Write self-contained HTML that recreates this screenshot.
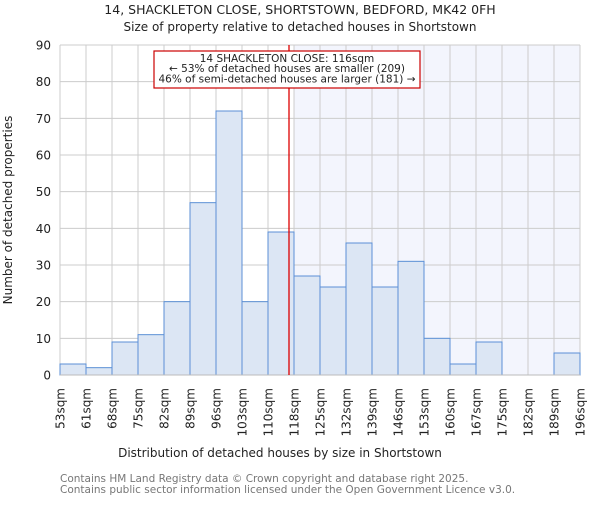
<!DOCTYPE html>
<html><head><meta charset="utf-8"><style>
body{margin:0;background:#fff}
svg{font-family:"DejaVu Sans","Liberation Sans",sans-serif}
</style></head><body>
<svg id="c" width="600" height="500" viewBox="0 0 600 500" xmlns="http://www.w3.org/2000/svg">
<text x="300" y="14" text-anchor="middle" font-size="12.5" fill="#222">14, SHACKLETON CLOSE, SHORTSTOWN, BEDFORD, MK42 0FH</text>
<text x="300" y="31" text-anchor="middle" font-size="12" fill="#222">Size of property relative to detached houses in Shortstown</text>
<g id="plot"></g>
<text x="280" y="457" text-anchor="middle" font-size="12" fill="#222">Distribution of detached houses by size in Shortstown</text>
<text transform="translate(12,210) rotate(-90)" text-anchor="middle" font-size="12" fill="#222">Number of detached properties</text>
<text x="60" y="482" font-size="10.5" fill="#777">Contains HM Land Registry data © Crown copyright and database right 2025.</text>
<text x="60" y="493" font-size="10.5" fill="#777">Contains public sector information licensed under the Open Government Licence v3.0.</text>
</svg>
<script>
const categories=["53sqm","61sqm","68sqm","75sqm","82sqm","89sqm","96sqm","103sqm","110sqm","118sqm","125sqm","132sqm","139sqm","146sqm","153sqm","160sqm","167sqm","175sqm","182sqm","189sqm","196sqm"];
const counts=[3,2,9,11,20,47,72,20,39,27,24,36,24,31,10,3,9,0,0,6];
const yTicks=[0,10,20,30,40,50,60,70,80,90];
const markerValue=116;
const binEdges=[53,61,68,75,82,89,96,103,110,118,125,132,139,146,153,160,167,175,182,189,196];
const highlightFromBin=9;

const X0=60,X1=580,Y0=375,Y1=45,YMAX=90;
const nb=counts.length,bw=(X1-X0)/nb;
const xs=i=>X0+i*bw;
const ys=v=>Y0-(v/YMAX)*(Y0-Y1);
const xv=v=>{for(let i=0;i<binEdges.length-1;i++){if(v<=binEdges[i+1])return xs(i)+bw*(v-binEdges[i])/(binEdges[i+1]-binEdges[i]);}return X1;};
const NS="http://www.w3.org/2000/svg";
const g=document.getElementById('plot');
function mk(t,a){const e=document.createElementNS(NS,t);for(const k in a)e.setAttribute(k,a[k]);g.appendChild(e);return e;}

let e=mk('rect',{x:xs(highlightFromBin),y:Y1,width:X1-xs(highlightFromBin),height:Y0-Y1,fill:'#f3f5fd'});


yTicks.forEach(t=>{
 let l=mk('line',{x1:X0,x2:X1,y1:ys(t),y2:ys(t),stroke:'#ccc','stroke-width':1});
 
 
 let tx=mk('text',{x:X0-9,y:ys(t)+4.5,'text-anchor':'end','font-size':12,fill:'#222'});
 tx.textContent=t;
 
 
});
categories.forEach((c,i)=>{
 let l=mk('line',{x1:xs(i),x2:xs(i),y1:Y1,y2:Y0,stroke:'#ccc','stroke-width':1});
 
 
 let tx=mk('text',{transform:`translate(${xs(i)+4.5},${Y0+13}) rotate(-90)`,'text-anchor':'end','font-size':12,fill:'#222'});
 tx.textContent=c;
 
 
});
counts.forEach((v,i)=>{
 if(v<=0)return;
 let r=mk('rect',{x:xs(i),y:ys(v),width:bw,height:Y0-ys(v),fill:'#dce6f4',stroke:'#5b8fd6','stroke-width':1});
 
 
});
let ax=mk('line',{x1:X0,x2:X1,y1:Y0,y2:Y0,stroke:'#bbb','stroke-width':1});


const mx=xv(markerValue)+1.5;
let ml=mk('line',{x1:mx,x2:mx,y1:Y1,y2:Y0,stroke:'#dd0000','stroke-width':1.3});


let box=mk('rect',{x:154,y:51,width:266,height:37,fill:'#fff',stroke:'#cc0000','stroke-width':1.2});


["14 SHACKLETON CLOSE: 116sqm","← 53% of detached houses are smaller (209)","46% of semi-detached houses are larger (181) →"].forEach((s,k)=>{
 let t=mk('text',{x:287,y:62+k*10.2,'text-anchor':'middle','font-size':10.5,fill:'#222'});
 t.textContent=s;
 
 
});
</script>
</body></html>
